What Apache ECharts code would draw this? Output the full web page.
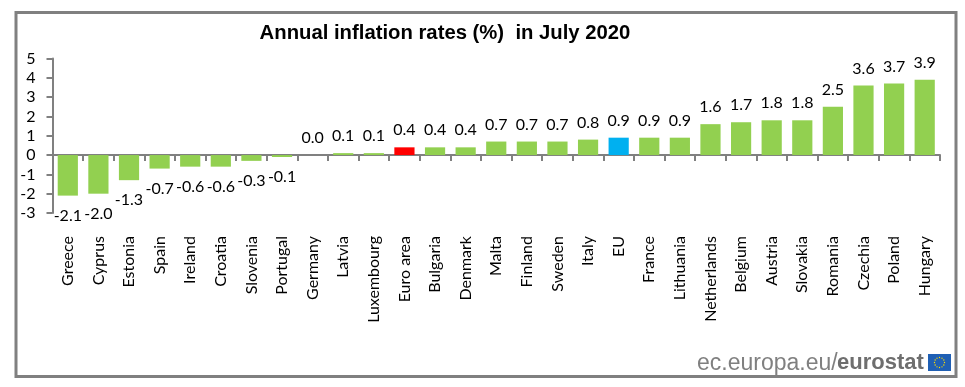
<!DOCTYPE html>
<html>
<head>
<meta charset="utf-8">
<style>html,body{margin:0;padding:0;background:#fff}#chart{width:965px;height:387px}</style>
<script src="https://cdn.jsdelivr.net/npm/echarts@6/dist/echarts.min.js"></script>
</head>
<body>
<div id="chart"></div>
<script>
var categories = ['Greece','Cyprus','Estonia','Spain','Ireland','Croatia','Slovenia','Portugal','Germany','Latvia','Luxembourg','Euro area','Bulgaria','Denmark','Malta','Finland','Sweden','Italy','EU','France','Lithuania','Netherlands','Belgium','Austria','Slovakia','Romania','Czechia','Poland','Hungary'];
var values = [-2.1,-2.0,-1.3,-0.7,-0.6,-0.6,-0.3,-0.1,0.0,0.1,0.1,0.4,0.4,0.4,0.7,0.7,0.7,0.8,0.9,0.9,0.9,1.6,1.7,1.8,1.8,2.5,3.6,3.7,3.9];
var highlight = { 'Euro area': '#FF0000', 'EU': '#00B0F0' };

var myChart = echarts.init(document.getElementById('chart'));
var labelFont = 'Lato, "Open Sans", sans-serif';

// EU flag stars
var stars = [];
for (var i = 0; i < 12; i++) {
    var a = i * Math.PI / 6;
    stars.push({
        type: 'circle',
        shape: { cx: 939.5 + 5 * Math.cos(a), cy: 362.5 + 5 * Math.sin(a), r: 0.7 },
        style: { fill: '#FFDD00' }
    });
}

var option = {
    animation: false,
    title: {
        text: 'Annual inflation rates (%)  in July 2020',
        left: 440,
        top: 18,
        textAlign: 'center',
        textStyle: { fontFamily: '"Liberation Sans", Arial, sans-serif', fontSize: 20.3, fontWeight: 'bold', color: '#000' }
    },
    grid: { left: 52.5, right: 25, top: 58.5, height: 154.5 },
    xAxis: {
        type: 'category',
        data: categories,
        axisLine: { onZero: true, lineStyle: { color: '#808080', width: 2 } },
        axisTick: { show: true, length: 6, lineStyle: { color: '#808080', width: 2 } },
        axisLabel: {
            interval: 0,
            rotate: 90,
            margin: 23,
            fontFamily: labelFont,
            fontSize: 16,
            color: '#000'
        }
    },
    yAxis: {
        type: 'value',
        min: -3,
        max: 5,
        interval: 1,
        splitLine: { show: false },
        axisLine: { show: true, lineStyle: { color: '#808080', width: 2 } },
        axisTick: { show: true, length: 6, lineStyle: { color: '#808080', width: 2 } },
        axisLabel: { margin: 17, fontFamily: labelFont, fontSize: 16, color: '#000' }
    },
    series: [{
        type: 'bar',
        barCategoryGap: '34%',
        data: values.map(function (v, i) {
            return {
                value: v,
                itemStyle: { color: highlight[categories[i]] || '#92D050' },
                // negative labels sit further off the bar, zero goes above the axis
                label: v < 0 ? { position: 'bottom', distance: 12 } : { position: 'top', distance: 9 }
            };
        }),
        label: {
            show: true,
            fontFamily: labelFont,
            fontSize: 16,
            color: '#000',
            formatter: function (p) { return p.value.toFixed(1); }
        }
    }],
    graphic: [
        { type: 'rect', shape: { x: 16, y: 12.5, width: 940, height: 364 }, style: { fill: 'none', stroke: '#808080', lineWidth: 3 }, z: -1 },
        { type: 'text', x: 697, y: 352, style: { text: 'ec.europa.eu/', fill: '#808080', font: '23px "Liberation Sans", Arial, sans-serif' } },
        { type: 'text', x: 837, y: 352, style: { text: 'eurostat', fill: '#6E6E6E', font: 'bold 22px "Liberation Sans", Arial, sans-serif' } },
        { type: 'rect', shape: { x: 928, y: 354, width: 23, height: 17 }, style: { fill: '#1F5FB4' } }
    ].concat(stars)
};

myChart.setOption(option);
</script>
</body>
</html>
